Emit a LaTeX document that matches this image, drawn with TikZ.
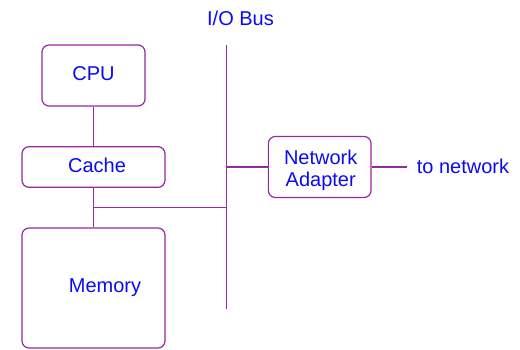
\documentclass[tikz,border=0pt]{standalone}
\usepackage{fontspec}
\setmainfont{Liberation Sans}
\definecolor{boxcol}{RGB}{150,40,160}
\definecolor{txtcol}{RGB}{10,10,245}
\begin{document}
\begin{tikzpicture}[x=1pt,y=-1pt,
  every node/.style={font=\fontsize{20}{21.7}\selectfont, text=txtcol},
  unit/.style={draw=boxcol, line width=1.2pt, rounded corners=7pt, inner sep=0pt, align=center},
  wire/.style={draw=boxcol, line width=1.2pt}]
\useasboundingbox (0,0) rectangle (520,349);
\node[unit, minimum width=103pt, minimum height=61pt] (cpu) at (93.5,75.5) {};
\node (cputxt) at (93.5,74) {CPU};
\node[unit, minimum width=143pt, minimum height=40.6pt] (cache) at (93.5,167) {};
\node (cachetxt) at (97,165.5) {Cache};
\node[unit, minimum width=143pt, minimum height=120pt] (mem) at (93.5,288) {};
\node (memtxt) at (105,288) {Memory};
\node[unit, minimum width=102.7pt, minimum height=61pt] (adapter) at (319.7,167) {};
\node[align=center, inner sep=0pt, anchor=base] (adtxt) at (320.7,186) {Network\\Adapter};
\node (busl) at (240.5,18) {I/O Bus};
\node[anchor=west, inner xsep=10pt] (tonet) at (406.7,166) {to network};
\coordinate (bustop) at (226.7,45);
\coordinate (busbot) at (226.7,309);
\coordinate (junc) at (93.5,207.7);
\draw[wire] (bustop) -- (busbot);
\draw[wire] (cpu) -- (cache);
\draw[wire] (cache) -- (mem);
\draw[wire] (junc) -- (junc -| bustop);
\draw[wire] (bustop |- adapter.west) -- (adapter.west);
\draw[wire] (adapter.east) -- (adapter.east -| tonet.west);
\end{tikzpicture}
\end{document}
